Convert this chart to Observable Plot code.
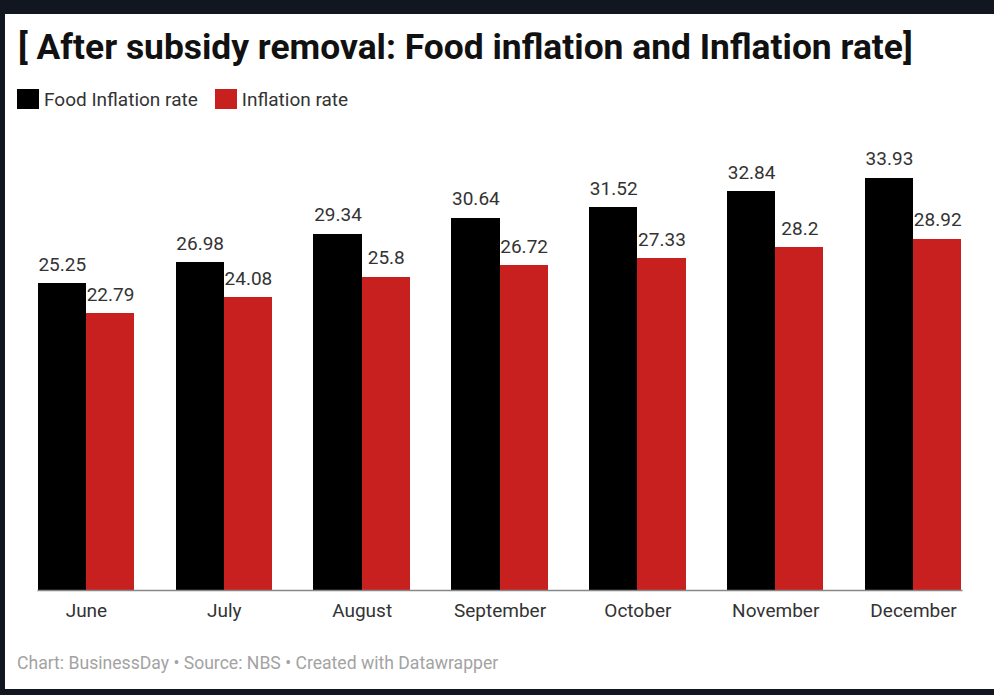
<!DOCTYPE html>
<html>
<head>
<meta charset="utf-8">
<script src="https://cdn.jsdelivr.net/npm/d3@7"></script>
<script src="https://cdn.jsdelivr.net/npm/@observablehq/plot@0.6"></script>
<style>
  html, body { margin: 0; padding: 0; background: #121620; width: 994px; height: 695px; overflow: hidden; }
  #card { position: absolute; left: 5px; top: 14px; width: 989px; height: 675px; background: #fff; }
  .abs { position: absolute; font-family: Roboto, "Noto Sans", sans-serif; line-height: 1; white-space: nowrap; }
  #title { left: 18px; top: 30px; font-size: 35.4px; font-weight: 700; color: #111; }
  #legend { left: 17px; top: 89px; display: flex; align-items: center; font-size: 19px; color: #333; }
  .item { display: flex; align-items: center; margin-right: 17px; }
  .sw { width: 22px; height: 20px; margin-right: 5px; }
  #footer { left: 17px; top: 655px; font-size: 17.6px; color: #a3a3a3; }
  #chart { position: absolute; left: 0; top: 120px; }
</style>
</head>
<body>
<div id="card"></div>
<div id="title" class="abs">[ After subsidy removal: Food inflation and Inflation rate]</div>
<div id="legend" class="abs"></div>
<div id="footer" class="abs">Chart: BusinessDay • Source: NBS • Created with Datawrapper</div>
<div id="chart"></div>
<script>
const months = ["June", "July", "August", "September", "October", "November", "December"];
const seriesNames = ["Food Inflation rate", "Inflation rate"];
const seriesColors = ["#000000", "#c8201f"];
const foodInflation = [25.25, 26.98, 29.34, 30.64, 31.52, 32.84, 33.93];
const inflation = [22.79, 24.08, 25.8, 26.72, 27.33, 28.2, 28.92];

const data = [];
months.forEach((m, i) => {
  data.push({month: m, series: seriesNames[0], value: foodInflation[i]});
  data.push({month: m, series: seriesNames[1], value: inflation[i]});
});

// legend
const legend = document.getElementById("legend");
seriesNames.forEach((s, i) => {
  const it = document.createElement("div");
  it.className = "item";
  it.innerHTML = `<div class="sw" style="background:${seriesColors[i]}"></div><span>${s}</span>`;
  legend.appendChild(it);
});

const chart = Plot.plot({
  width: 994,
  height: 520,
  marginLeft: 17,
  marginRight: 12,
  marginTop: 57,
  marginBottom: 50,
  style: {fontFamily: "Roboto, sans-serif", fontSize: "19px", color: "#333", background: "transparent"},
  fx: {domain: months, paddingInner: 0.3, paddingOuter: 0.15, round: false, label: null},
  x: {domain: seriesNames, padding: 0, round: false, axis: null},
  y: {domain: [0, 34], axis: null},
  color: {domain: seriesNames, range: seriesColors},
  marks: [
    Plot.barY(data, {fx: "month", x: "series", y: "value", fill: "series", shapeRendering: "crispEdges"}),
    Plot.text(data, {fx: "month", x: "series", y: "value", text: d => String(d.value), lineAnchor: "bottom", dy: -13, fill: "#333", fontSize: 19}),
    Plot.frame({anchor: "bottom", stroke: "#888", strokeWidth: 1.5, facet: "super"}),
    Plot.axisFx({anchor: "bottom", tickSize: 0, tickPadding: 13, label: null, fontSize: 19, fill: "#333"})
  ]
});
document.getElementById("chart").appendChild(chart);
</script>
</body>
</html>
